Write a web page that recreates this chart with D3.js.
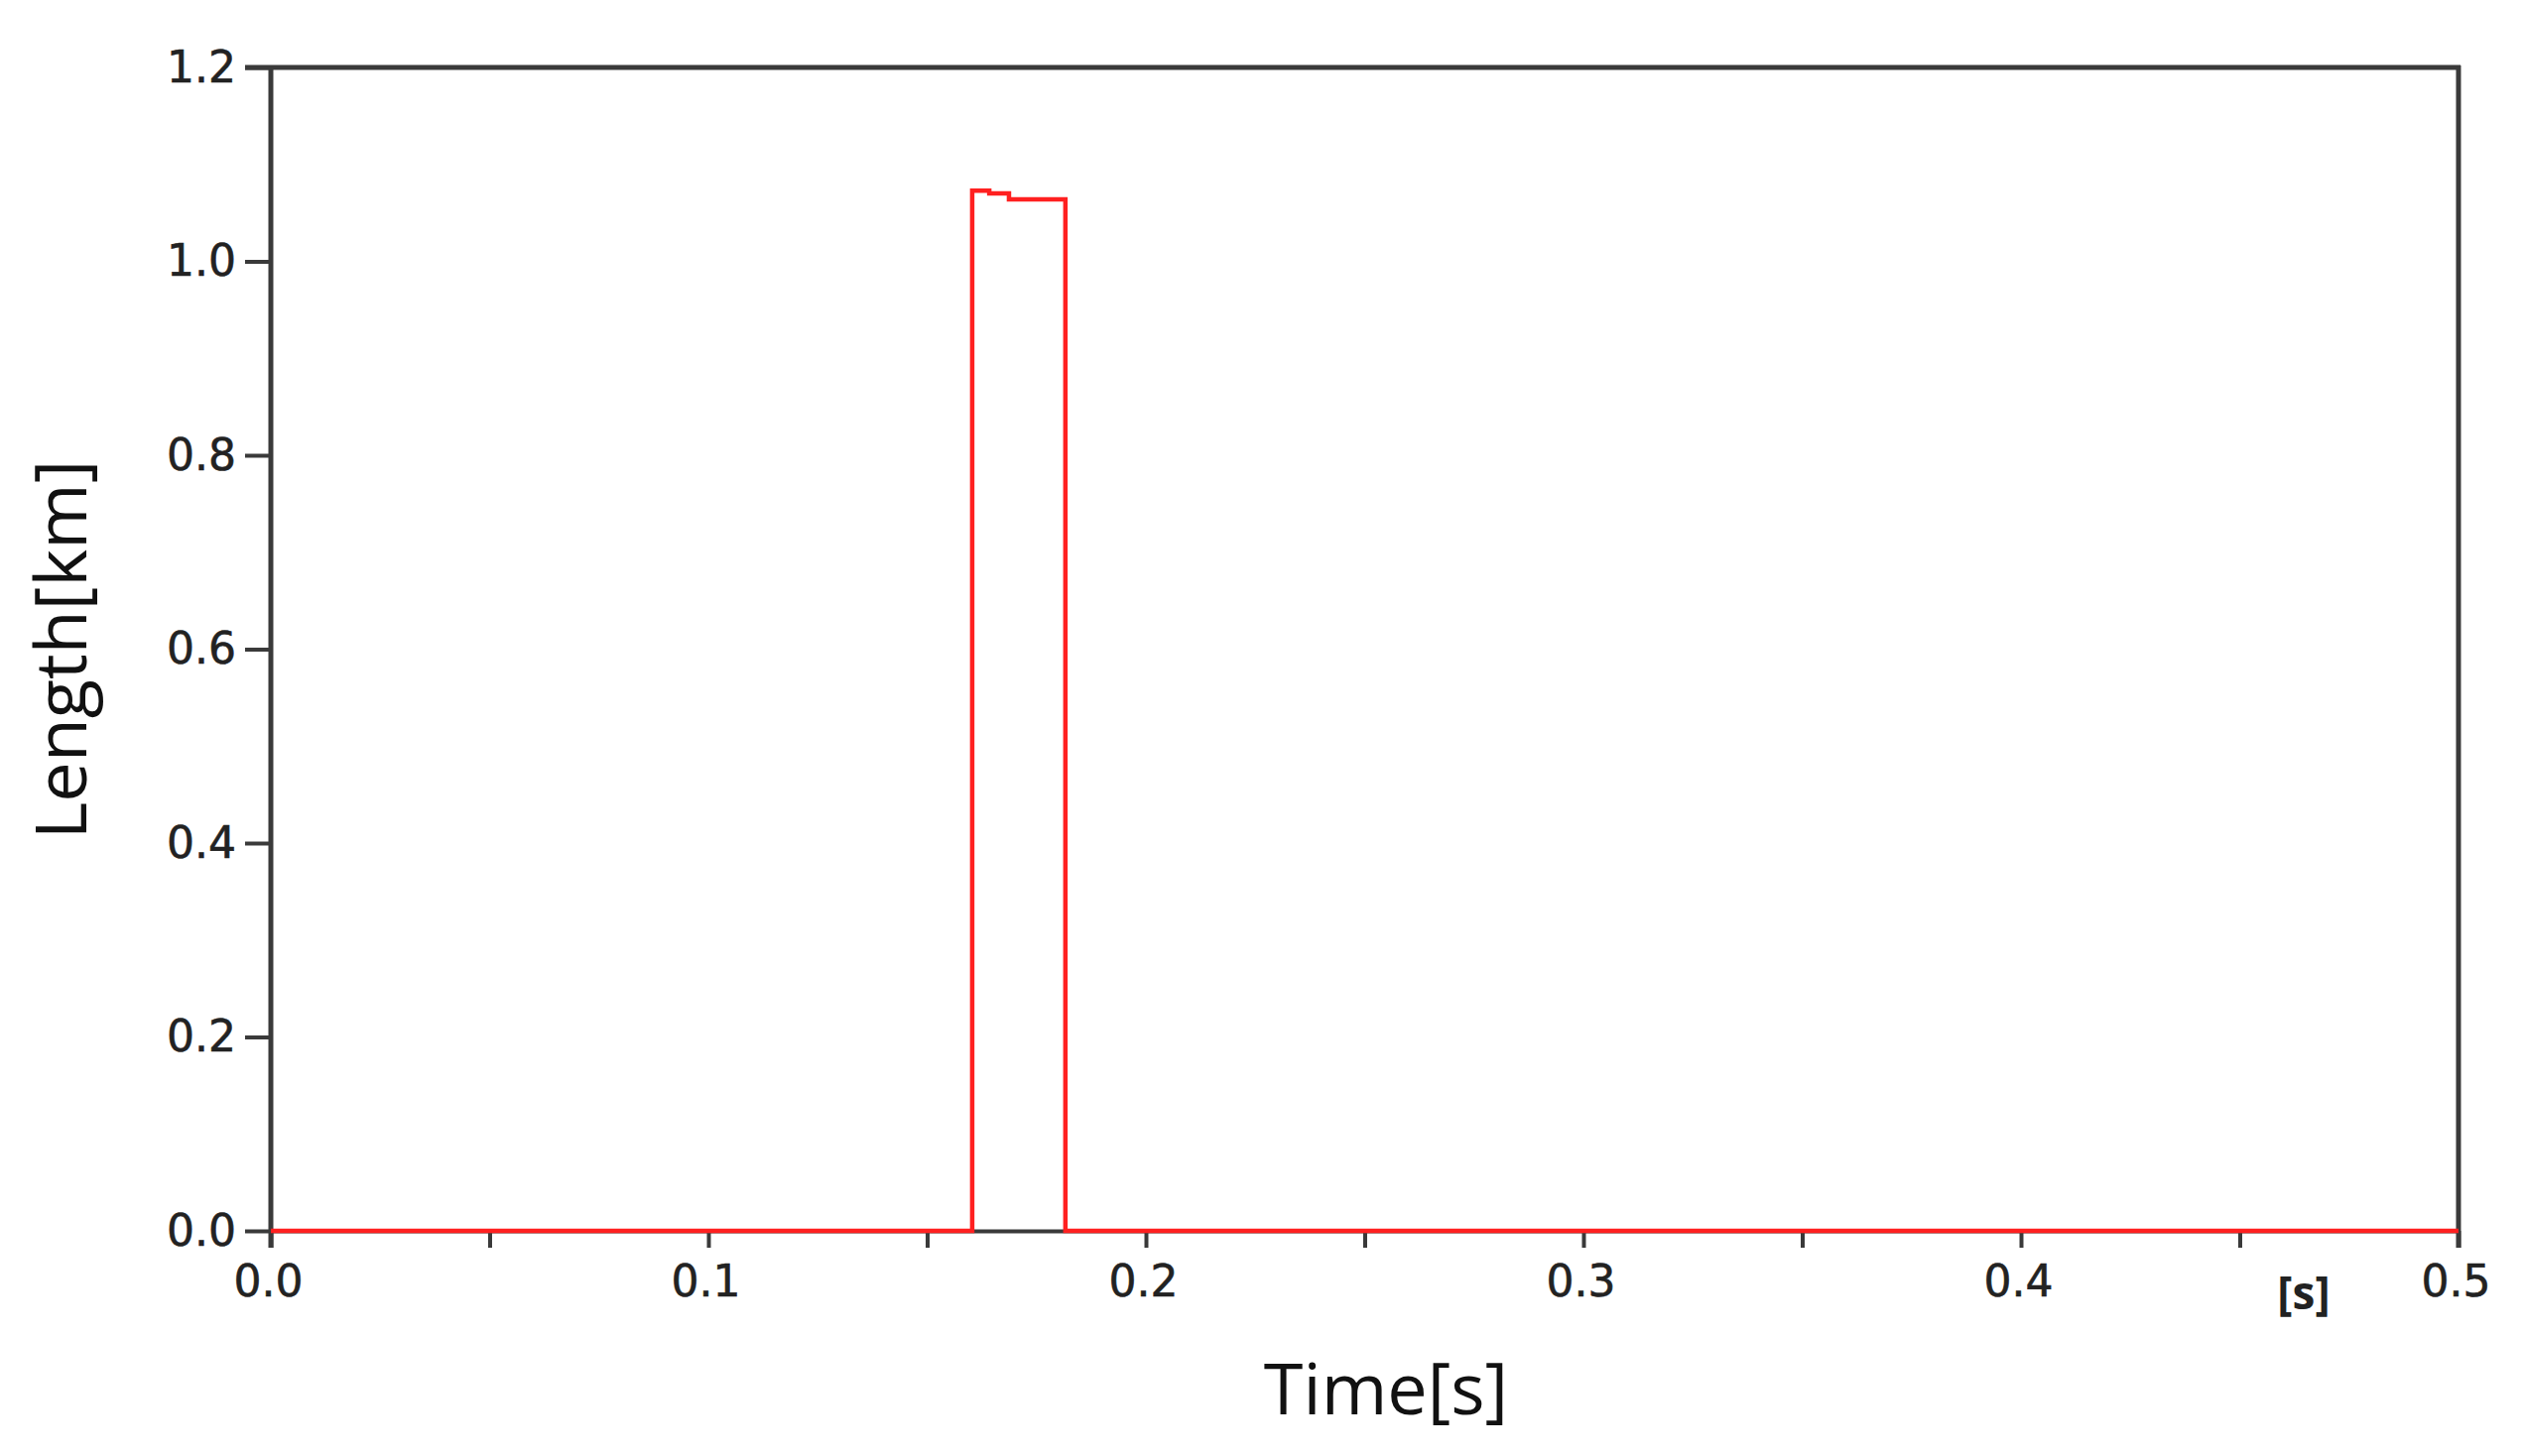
<!DOCTYPE html>
<html>
<head>
<meta charset="utf-8">
<script src="https://cdn.jsdelivr.net/npm/d3@7"></script>
<style>
  html, body { margin: 0; padding: 0; background: #fff; }
  svg { display: block; }
</style>
</head>
<body>
<svg id="chart" width="2541" height="1468"></svg>
<script>
// ---- data ----
const timeSteps = [0, 0.1603, 0.1642, 0.1687, 0.1816, 0.5];
const lengthValues = [0, 1.073, 1.070, 1.064, 0, 0];
const xTickValues = [0, 0.05, 0.1, 0.15, 0.2, 0.25, 0.3, 0.35, 0.4, 0.45, 0.5];
const xTickLabels = ["0.0", "", "0.1", "", "0.2", "", "0.3", "", "0.4", "", "0.5"];
const yTickValues = [0, 0.2, 0.4, 0.6, 0.8, 1.0, 1.2];
const yTickLabels = ["0.0", "0.2", "0.4", "0.6", "0.8", "1.0", "1.2"];

const svg = d3.select("#chart");
const L = 273, R = 2478, T = 68, B = 1241;

const x = d3.scaleLinear().domain([0, 0.5]).range([L, R]);
const y = d3.scaleLinear().domain([0, 1.2]).range([B, T]);

const axisColor = "#3a3a3a";
const labelColor = "#222";

// x axis (ticks downward)
const xAxis = d3.axisBottom(x)
  .tickValues(xTickValues)
  .tickSize(17)
  .tickSizeOuter(0)
  .tickPadding(18)
  .tickFormat((d, i) => xTickLabels[i]);
const gx = svg.append("g").attr("transform", `translate(0,${B})`).call(xAxis);
gx.select(".domain").attr("stroke", axisColor).attr("stroke-width", 4);
gx.selectAll(".tick line").attr("stroke", axisColor).attr("stroke-width", 4);
gx.selectAll(".tick text")
  .attr("font-family", "DejaVu Sans, Verdana, sans-serif")
  .attr("font-size", 44).attr("fill", labelColor)
  .attr("stroke", labelColor).attr("stroke-width", 0.6)
  .attr("dx", -3);

// y axis (ticks left)
const yAxis = d3.axisLeft(y)
  .tickValues(yTickValues)
  .tickSize(26)
  .tickSizeOuter(0)
  .tickPadding(9)
  .tickFormat((d, i) => yTickLabels[i]);
const gy = svg.append("g").attr("transform", `translate(${L},0)`).call(yAxis);
gy.select(".domain").remove();
gy.selectAll(".tick line").attr("stroke", axisColor).attr("stroke-width", 4);
gy.selectAll(".tick text")
  .attr("font-family", "DejaVu Sans, Verdana, sans-serif")
  .attr("font-size", 44).attr("fill", labelColor)
  .attr("stroke", labelColor).attr("stroke-width", 0.6);

// frame
svg.append("line").attr("x1", L).attr("x2", L).attr("y1", T - 2).attr("y2", B + 17)
  .attr("stroke", axisColor).attr("stroke-width", 5);
svg.append("line").attr("x1", R).attr("x2", R).attr("y1", T - 2).attr("y2", B + 17)
  .attr("stroke", axisColor).attr("stroke-width", 5);
svg.append("line").attr("x1", L - 26).attr("x2", R + 2).attr("y1", T).attr("y2", T)
  .attr("stroke", axisColor).attr("stroke-width", 5);

// red series
const pts = timeSteps.map((t, i) => [t, lengthValues[i]]);
const line = d3.line()
  .x(d => x(d[0]))
  .y(d => y(d[1]))
  .curve(d3.curveStepAfter);
svg.append("path")
  .datum(pts)
  .attr("d", line)
  .attr("fill", "none")
  .attr("stroke", "#ff2020")
  .attr("stroke-width", 4.5);

// axis titles
svg.append("text")
  .attr("x", 1397).attr("y", 1426)
  .attr("text-anchor", "middle")
  .attr("font-family", "Open Sans, sans-serif")
  .attr("font-size", 72).attr("fill", "#111")
  .text("Time[s]");

svg.append("text")
  .attr("transform", "translate(87,655) rotate(-90)")
  .attr("text-anchor", "middle")
  .attr("font-family", "Open Sans, sans-serif")
  .attr("font-size", 72).attr("fill", "#111")
  .text("Length[km]");

svg.append("text")
  .attr("x", 2322).attr("y", 1320)
  .attr("text-anchor", "middle")
  .attr("font-family", "Open Sans, sans-serif")
  .attr("font-weight", "bold")
  .attr("font-size", 46).attr("fill", "#222")
  .text("[s]");
</script>
</body>
</html>
